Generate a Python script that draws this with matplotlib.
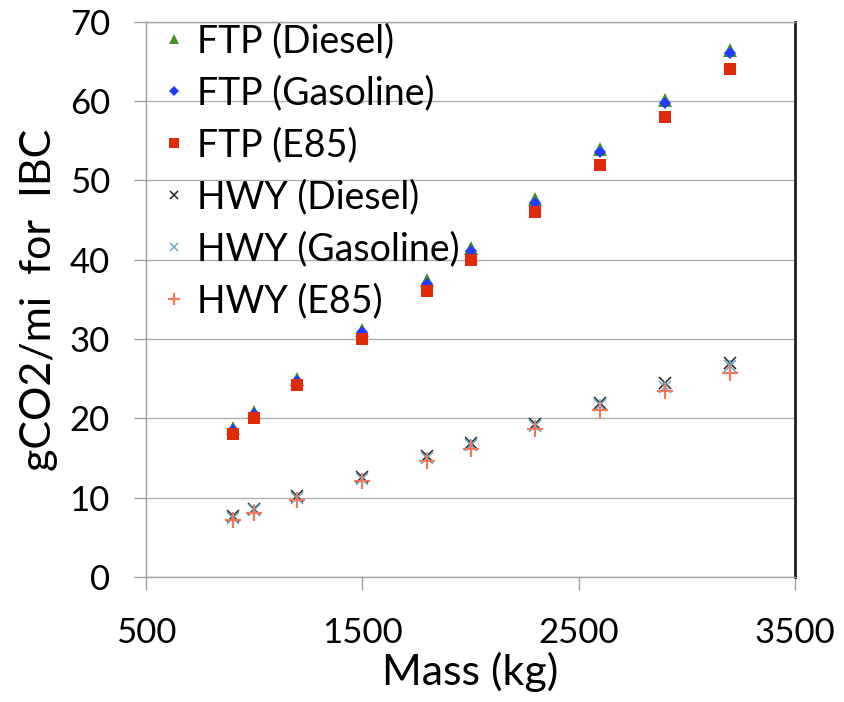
import matplotlib
matplotlib.use('Agg')
import matplotlib.pyplot as plt

# ── Data ───────────────────────────────────────────────────────────────────────
mass = [900, 1000, 1200, 1500, 1800, 2000, 2300, 2600, 2900, 3200]

ftp_diesel   = [18.8, 20.8, 25.0, 31.2, 37.5, 41.5, 47.6, 54.0, 60.2, 66.4]
ftp_gasoline = [18.5, 20.5, 24.7, 30.9, 37.0, 41.1, 47.2, 53.6, 59.8, 66.0]
ftp_e85      = [18.0, 20.0, 24.2, 30.0, 36.0, 40.0, 46.0, 52.0, 58.0, 64.0]
hwy_diesel   = [7.7, 8.6, 10.2, 12.6, 15.3, 16.9, 19.3, 22.0, 24.4, 27.0]
hwy_gasoline = [7.5, 8.4, 10.0, 12.4, 15.0, 16.7, 19.1, 21.7, 24.0, 26.6]
hwy_e85      = [7.2, 8.1, 9.7, 12.1, 14.6, 16.2, 18.6, 21.0, 23.4, 25.7]

series_labels = ["FTP (Diesel)", "FTP (Gasoline)", "FTP (E85)",
                 "HWY (Diesel)", "HWY (Gasoline)", "HWY (E85)"]

x_ticks = [500, 1500, 2500, 3500]
y_ticks = list(range(0, 71, 10))

plt.rcParams['font.family'] = ['Lato', 'DejaVu Sans']

fig = plt.figure(figsize=(8.44, 7.02), dpi=100)
ax = fig.add_axes([0.173, 0.178, 0.769, 0.791])

styles = [
    dict(marker='^', color='#4a8f22', ms=9.5, mew=0),
    dict(marker='D', color='#1f3cff', ms=6.5, mew=0),
    dict(marker='s', color='#e02a08', ms=9, mew=0),
    dict(marker='x', color='#222222', ms=8, mew=1.1),
    dict(marker='x', color='#6aa6c4', ms=8, mew=1.1),
    dict(marker='+', color='#f07a5a', ms=11, mew=1.6),
]
data = [ftp_diesel, ftp_gasoline, ftp_e85, hwy_diesel, hwy_gasoline, hwy_e85]

for ys, st, lab in zip(data, styles, series_labels):
    ax.plot(mass, ys, linestyle='none', marker=st['marker'], color=st['color'],
            markersize=st['ms'], markeredgewidth=st['mew'], label=lab)
    if lab == "HWY (Gasoline)":
        # asterisk look: add the vertical stroke of the star
        ax.plot(mass, ys, linestyle='none', marker='|', color=st['color'],
                markersize=8, markeredgewidth=1.1)

ax.set_xlim(500, 3500)
ax.set_ylim(0, 70)
ax.set_xticks(x_ticks)
ax.set_yticks(y_ticks)
ax.grid(axis='y', color='#b0b0b0', linewidth=1.0)
ax.set_axisbelow(True)

for name in ['left', 'top', 'bottom']:
    ax.spines[name].set_color('#a0a0a0')
    ax.spines[name].set_linewidth(1.0)
ax.spines['right'].set_color('#202020')
ax.spines['right'].set_linewidth(2.0)

ax.tick_params(axis='both', direction='out', length=9, width=1.0,
               color='#a0a0a0', labelsize=25)
ax.tick_params(axis='x', pad=20)
ax.tick_params(axis='y', pad=17)

ax.set_xlabel("Mass (kg)", fontsize=31, labelpad=2)
ax.set_ylabel("gCO2/mi  for  IBC", fontsize=31, labelpad=8)

ax.legend(loc='upper left', frameon=False, fontsize=27, handlelength=0.6,
          handletextpad=0.3, labelspacing=0.43, borderaxespad=0.0,
          bbox_to_anchor=(0.003, 1.025), markerscale=0.8)

fig.savefig('out.png', dpi=100, facecolor='white')
